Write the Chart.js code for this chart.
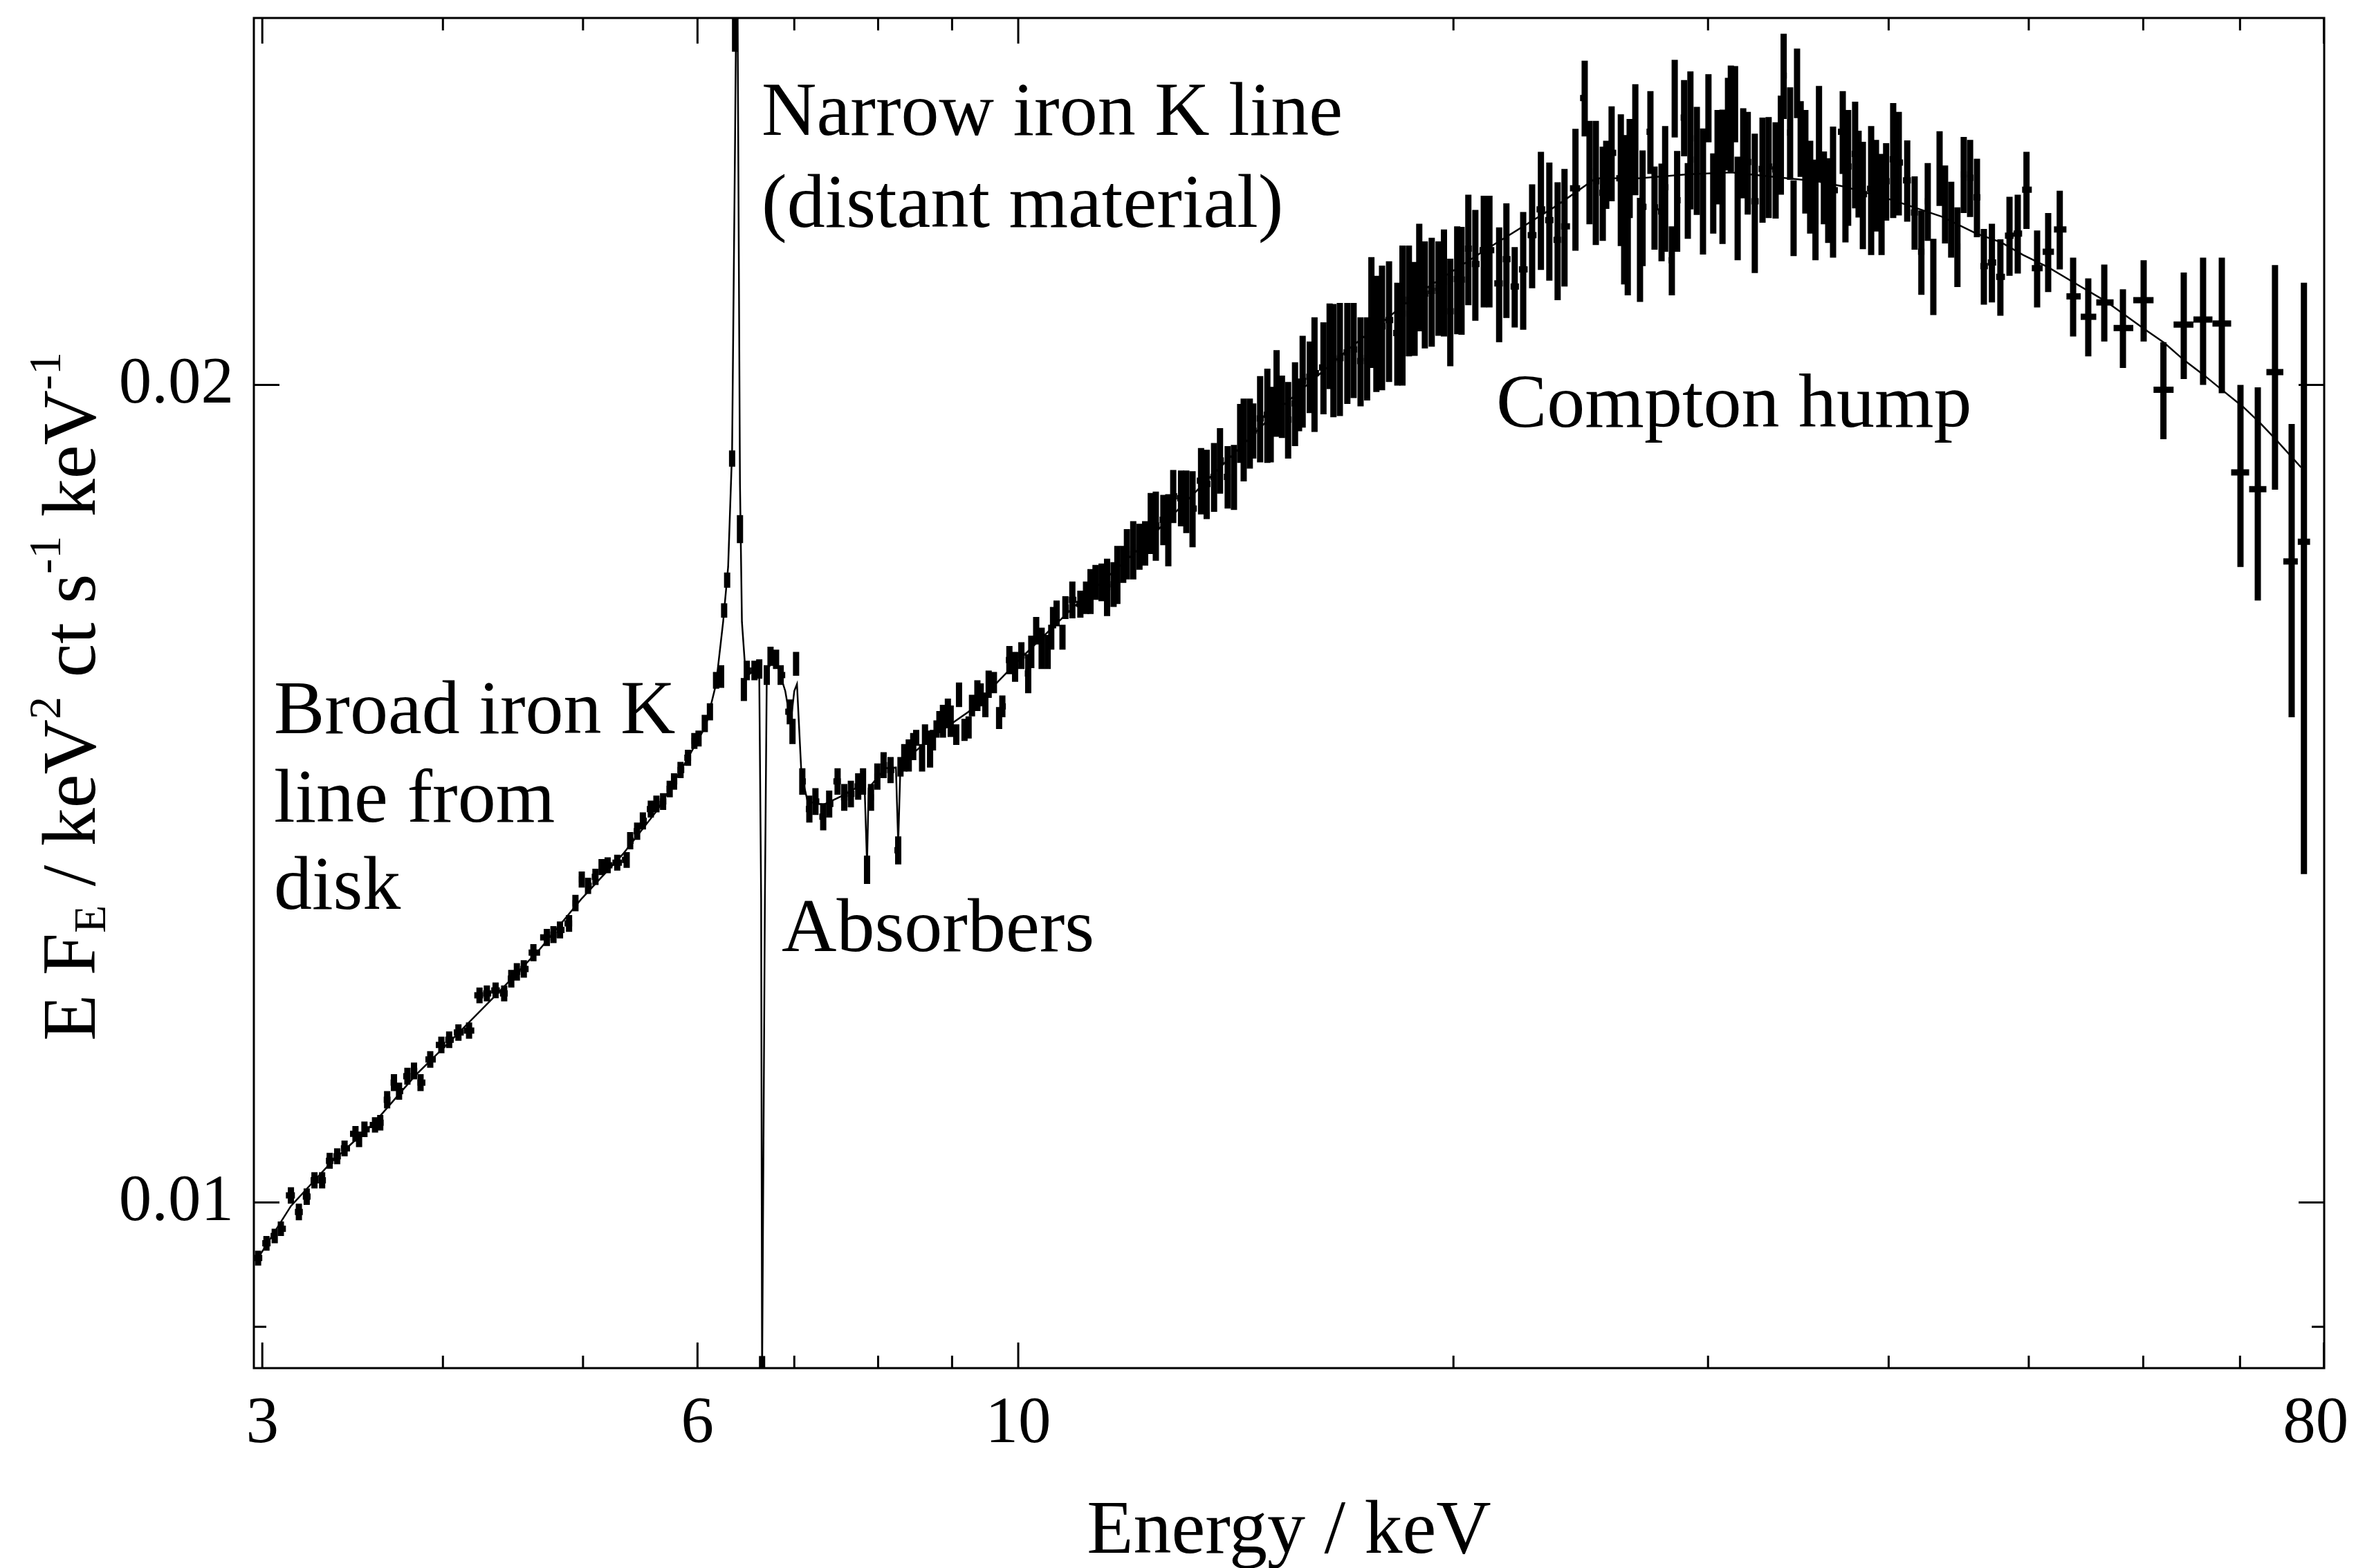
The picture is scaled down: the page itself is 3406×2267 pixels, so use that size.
<!DOCTYPE html>
<html>
<head>
<meta charset="utf-8">
<script src="https://cdn.jsdelivr.net/npm/chart.js@4.4.1/dist/chart.umd.min.js"></script>
<style>
html,body{margin:0;padding:0;background:#ffffff;}
canvas{display:block;}
</style>
</head>
<body>
<canvas id="c" width="3406" height="2267"></canvas>
<script>
// ---------------- data ----------------
const xTickValues = [3, 6, 10, 80];
const xMinorTickValues = [4, 5, 7, 8, 9, 20, 30, 40, 50, 60, 70];
const yTickValues = [0.01, 0.02];
const yMinorTickValues = [0.009];

// observed spectrum: bin energy (keV), E*F_E, 1-sigma error
const energyKeV = [
  2.98, 3.02, 3.06, 3.09, 3.14, 3.18, 3.22, 3.26, 3.30, 3.34, 3.38, 3.42, 3.48, 3.50, 3.53, 3.59, 3.62, 3.66, 3.70, 3.73,
  3.78, 3.82, 3.86, 3.92, 3.99, 4.04, 4.10, 4.17, 4.24, 4.29, 4.35, 4.41, 4.46, 4.50, 4.55, 4.62, 4.72, 4.77, 4.82, 4.89,
  4.94, 4.99, 5.04, 5.10, 5.15, 5.20, 5.28, 5.36, 5.39, 5.45, 5.50, 5.57, 5.62, 5.68, 5.74, 5.78, 5.84, 5.91, 5.97, 6.01,
  6.07, 6.12, 6.18, 6.23, 6.26, 6.29, 6.34, 6.37, 6.42, 6.46, 6.49, 6.57, 6.62, 6.65, 6.70, 6.74, 6.80, 6.85, 6.95, 6.98,
  7.02, 7.09, 7.17, 7.24, 7.33, 7.40, 7.50, 7.58, 7.66, 7.75, 7.81, 7.86, 7.91, 7.99, 8.07, 8.16, 8.26,
  8.29, 8.34, 8.40, 8.46, 8.50, 8.58, 8.62, 8.69, 8.73, 8.78, 8.82, 8.87, 8.94, 8.98, 9.06, 9.10, 9.18, 9.24, 9.29, 9.37, 9.42, 9.49, 9.54,
  9.62, 9.70, 9.75, 9.86, 9.95, 10.05, 10.16, 10.21, 10.29, 10.38, 10.48, 10.54, 10.57, 10.63, 10.73, 10.78, 10.90, 11.04, 11.14, 11.22,
  11.31, 11.42, 11.52, 11.64, 11.71, 11.82, 11.89, 12.01, 12.13, 12.24, 12.35, 12.45, 12.60, 12.70, 12.80, 12.96, 13.07, 13.20, 13.38, 13.50,
  13.66, 13.79, 13.96, 14.10, 14.24, 14.32, 14.46, 14.54, 14.70, 14.87, 14.95, 15.09, 15.22, 15.37, 15.54, 15.64, 15.73, 15.91, 16.03, 16.26,
  16.42, 16.52, 16.69, 16.89, 17.06, 17.25, 17.43, 17.55, 17.69, 17.85, 18.05, 18.29, 18.44, 18.63, 18.80, 18.94, 19.11, 19.32, 19.53, 19.70,
  19.90, 20.12, 20.26, 20.48, 20.71, 20.99, 21.18, 21.51, 21.76, 22.05, 22.35, 22.67, 22.99, 23.30, 23.61, 23.87, 24.29, 24.65, 24.84, 25.09,
  25.37, 25.51, 25.73, 26.11, 26.25, 26.40, 26.48, 26.72, 26.92, 27.03, 27.37, 27.55, 27.86, 28.02, 28.32, 28.45, 28.56, 28.88, 29.05, 29.17,
  29.47, 29.76, 30.02, 30.25, 30.46, 30.70, 30.97, 31.11, 31.32, 31.45, 31.73, 31.96, 32.32, 32.72, 33.04, 33.41, 33.69, 33.84, 34.19, 34.38,
  34.57, 34.77, 35.03, 35.30, 35.60, 35.80, 36.08, 36.33, 36.61, 37.18, 37.34, 37.50, 37.92, 38.13, 38.39, 38.90, 39.20, 39.55, 39.84, 40.29,
  40.65, 41.20, 41.69, 42.14, 42.57, 42.95, 43.38, 43.76, 44.19, 44.63, 45.08, 45.54, 46.04, 46.55, 47.15, 47.79, 48.49, 49.13, 49.82, 50.67,
  51.57, 52.53, 53.66, 54.97, 56.39, 58.09, 60.04, 61.96, 64.00, 66.00, 68.00, 70.05, 72.01, 74.01, 76.00, 77.50
];
const fluxEF = [
  0.00954, 0.00966, 0.00972, 0.00978, 0.01006, 0.00992, 0.01005, 0.01019, 0.01019, 0.01036, 0.01040, 0.01047, 0.01060, 0.01055, 0.01064, 0.01068, 0.01070, 0.01091, 0.01107, 0.01099,
  0.01113, 0.01118, 0.01107, 0.01129, 0.01143, 0.01148, 0.01155, 0.01157, 0.01192, 0.01194, 0.01197, 0.01194, 0.01209, 0.01216, 0.01219, 0.01236, 0.01252, 0.01255, 0.01260, 0.01267,
  0.01289, 0.01315, 0.01308, 0.01318, 0.01329, 0.01331, 0.01334, 0.01337, 0.01359, 0.01370, 0.01382, 0.01396, 0.01402, 0.01405, 0.01420, 0.01429, 0.01443, 0.01458, 0.01479, 0.01482,
  0.01501, 0.01516, 0.01557, 0.01562, 0.01652, 0.01695, 0.01879, 0.02700, 0.01770, 0.01545, 0.01570, 0.01570, 0.01572, 0.00873, 0.01564, 0.01589, 0.01585, 0.01564, 0.01516, 0.01491,
  0.01579, 0.01429, 0.01396, 0.01405, 0.01387, 0.01402, 0.01429, 0.01410, 0.01414, 0.01423, 0.01429, 0.01326, 0.01410, 0.01435, 0.01449, 0.01443, 0.01348,
  0.01447, 0.01458, 0.01461, 0.01472, 0.01483, 0.01458, 0.01487, 0.01469, 0.01480, 0.01494, 0.01503, 0.01504, 0.01514, 0.01504, 0.01487, 0.01538, 0.01493, 0.01496, 0.01524, 0.01537, 0.01538, 0.01525, 0.01552,
  0.01554, 0.01508, 0.01523, 0.01584, 0.01575, 0.01590, 0.01566, 0.01595, 0.01624, 0.01600, 0.01595, 0.01615, 0.01642, 0.01648, 0.01615, 0.01656, 0.01667, 0.01661, 0.01670, 0.01679,
  0.01692, 0.01692, 0.01685, 0.01689, 0.01703, 0.01718, 0.01733, 0.01739, 0.01744, 0.01749, 0.01779, 0.01775, 0.01784, 0.01769, 0.01820, 0.01817, 0.01812, 0.01801, 0.01844, 0.01839,
  0.01850, 0.01876, 0.01850, 0.01850, 0.01920, 0.01910, 0.01920, 0.01924, 0.01944, 0.01950, 0.01935, 0.01987, 0.01964, 0.01942, 0.01969, 0.01967, 0.02007, 0.02014, 0.02020, 0.02030,
  0.02068, 0.02044, 0.02046, 0.02056, 0.02061, 0.02041, 0.02046, 0.02129, 0.02091, 0.02102, 0.02113, 0.02090, 0.02125, 0.02150, 0.02135, 0.02193, 0.02161, 0.02166, 0.02172, 0.02183,
  0.02129, 0.02188, 0.02187, 0.02245, 0.02216, 0.02242, 0.02242, 0.02180, 0.02225, 0.02174, 0.02206, 0.02271, 0.02321, 0.02300, 0.02262, 0.02288, 0.02363, 0.02551, 0.02397, 0.02377,
  0.02354, 0.02391, 0.02435, 0.02383, 0.02325, 0.02266, 0.02405, 0.02465, 0.02245, 0.02326, 0.02479, 0.02325, 0.02317, 0.02365, 0.02223, 0.02551, 0.02339, 0.02509, 0.02339, 0.02465,
  0.02421, 0.02360, 0.02530, 0.02354, 0.02428, 0.02390, 0.02497, 0.02509, 0.02539, 0.02325, 0.02436, 0.02416, 0.02337, 0.02402, 0.02407, 0.02401, 0.02453, 0.02600, 0.02477, 0.02305,
  0.02584, 0.02465, 0.02419, 0.02367, 0.02322, 0.02477, 0.02365, 0.02340, 0.02359, 0.02479, 0.02339, 0.02407, 0.02433, 0.02393, 0.02351, 0.02362, 0.02370, 0.02333, 0.02377, 0.02422,
  0.02415, 0.02379, 0.02315, 0.02239, 0.02337, 0.02193, 0.02404, 0.02332, 0.02302, 0.02249, 0.02391, 0.02384, 0.02345, 0.02212, 0.02219, 0.02192, 0.02270, 0.02274, 0.02360, 0.02208,
  0.02239, 0.02282, 0.02156, 0.02119, 0.02145, 0.02099, 0.02149, 0.01992, 0.02105, 0.02114, 0.02107, 0.01857, 0.01831, 0.02022, 0.01722, 0.01751
];
const fluxErr = [
  0.00006, 0.00006, 0.00006, 0.00006, 0.00007, 0.00007, 0.00007, 0.00007, 0.00007, 0.00007, 0.00007, 0.00007, 0.00007, 0.00007, 0.00007, 0.00007, 0.00007, 0.00008, 0.00008, 0.00008,
  0.00008, 0.00008, 0.00008, 0.00008, 0.00008, 0.00008, 0.00008, 0.00008, 0.00008, 0.00008, 0.00008, 0.00008, 0.00009, 0.00009, 0.00009, 0.00009, 0.00009, 0.00009, 0.00009, 0.00009,
  0.00009, 0.00009, 0.00009, 0.00009, 0.00009, 0.00009, 0.00009, 0.00009, 0.00010, 0.00010, 0.00010, 0.00010, 0.00010, 0.00010, 0.00010, 0.00010, 0.00010, 0.00010, 0.00010, 0.00010,
  0.00011, 0.00011, 0.00011, 0.00015, 0.00010, 0.00011, 0.00013, 0.00047, 0.00021, 0.00015, 0.00013, 0.00013, 0.00013, 0.00005, 0.00013, 0.00013, 0.00013, 0.00013, 0.00016, 0.00016,
  0.00016, 0.00016, 0.00016, 0.00016, 0.00016, 0.00016, 0.00016, 0.00016, 0.00016, 0.00016, 0.00016, 0.00016, 0.00016, 0.00016, 0.00016, 0.00016, 0.00016,
  0.00012, 0.00017, 0.00020, 0.00017, 0.00010, 0.00017, 0.00013, 0.00023, 0.00013, 0.00011, 0.00014, 0.00021, 0.00019, 0.00020, 0.00013, 0.00016, 0.00014, 0.00014, 0.00014, 0.00020, 0.00015, 0.00016, 0.00018,
  0.00014, 0.00014, 0.00014, 0.00019, 0.00020, 0.00018, 0.00026, 0.00022, 0.00019, 0.00028, 0.00023, 0.00017, 0.00015, 0.00018, 0.00017, 0.00016, 0.00026, 0.00019, 0.00023, 0.00032,
  0.00025, 0.00027, 0.00041, 0.00032, 0.00042, 0.00027, 0.00037, 0.00043, 0.00034, 0.00033, 0.00046, 0.00052, 0.00038, 0.00054, 0.00041, 0.00043, 0.00048, 0.00058, 0.00052, 0.00054,
  0.00054, 0.00052, 0.00049, 0.00051, 0.00048, 0.00067, 0.00057, 0.00045, 0.00071, 0.00078, 0.00062, 0.00073, 0.00052, 0.00063, 0.00070, 0.00044, 0.00078, 0.00061, 0.00098, 0.00079,
  0.00075, 0.00098, 0.00098, 0.00088, 0.00083, 0.00077, 0.00072, 0.00100, 0.00103, 0.00111, 0.00108, 0.00091, 0.00126, 0.00101, 0.00085, 0.00100, 0.00098, 0.00100, 0.00087, 0.00099,
  0.00097, 0.00100, 0.00100, 0.00105, 0.00104, 0.00106, 0.00106, 0.00106, 0.00108, 0.00074, 0.00110, 0.00100, 0.00116, 0.00115, 0.00113, 0.00114, 0.00122, 0.00082, 0.00105, 0.00125,
  0.00094, 0.00069, 0.00098, 0.00133, 0.00147, 0.00108, 0.00101, 0.00116, 0.00099, 0.00114, 0.00087, 0.00082, 0.00096, 0.00126, 0.00065, 0.00084, 0.00100, 0.00081, 0.00075, 0.00144,
  0.00111, 0.00126, 0.00073, 0.00080, 0.00097, 0.00136, 0.00098, 0.00113, 0.00082, 0.00102, 0.00093, 0.00105, 0.00138, 0.00107, 0.00103, 0.00098, 0.00103, 0.00094, 0.00097, 0.00074,
  0.00076, 0.00079, 0.00106, 0.00093, 0.00099, 0.00100, 0.00073, 0.00084, 0.00131, 0.00087, 0.00082, 0.00118, 0.00110, 0.00088, 0.00107, 0.00129, 0.00092, 0.00100, 0.00078, 0.00118,
  0.00106, 0.00082, 0.00072, 0.00080, 0.00077, 0.00071, 0.00076, 0.00077, 0.00074, 0.00076, 0.00077, 0.00078, 0.00078, 0.00071, 0.00074, 0.00071, 0.00076, 0.00076, 0.00077, 0.00072,
  0.00075, 0.00076, 0.00072, 0.00070, 0.00070, 0.00070, 0.00074, 0.00082, 0.00095, 0.00114, 0.00121, 0.00143, 0.00165, 0.00192, 0.00213, 0.00430
];

// best-fitting model curve
const modelEnergyKeV = [
  2.98, 3.14, 3.35, 3.58, 3.83, 4.09, 4.37, 4.67, 4.99, 5.33, 5.63, 5.88, 6.08, 6.18, 6.25, 6.30, 6.34, 6.37, 6.39, 6.42,
  6.44, 6.48, 6.57, 6.62, 6.64, 6.65, 6.68, 6.70, 6.75, 6.82, 6.90, 6.96, 7.00, 7.03, 7.08, 7.15, 7.33, 7.58, 7.79, 7.83,
  7.86, 7.88, 8.09, 8.23, 8.26, 8.29, 8.74, 9.24, 10.0, 10.90, 12.17, 13.58, 15.17, 16.93, 18.90, 21.11, 23.56, 25.09, 26.89, 29.05,
  31.14, 33.77, 35.68, 37.30, 40.29, 43.52, 45.99, 47.85, 49.55, 51.57, 53.60, 56.45, 58.21, 60.11, 62.03, 64.00, 66.07, 68.15, 70.36, 72.32,
  74.01, 77.15
];
const modelEF = [
  0.00954, 0.00997, 0.01035, 0.01069, 0.01114, 0.01153, 0.01195, 0.01240, 0.01294, 0.01344, 0.01395, 0.01451, 0.01498, 0.01552, 0.01636, 0.01714, 0.01893, 0.02465, 0.03000, 0.01839,
  0.01636, 0.01561, 0.01571, 0.01566, 0.01294, 0.00860, 0.01294, 0.01566, 0.01583, 0.01574, 0.01543, 0.01502, 0.01543, 0.01552, 0.01438, 0.01405, 0.01401, 0.01413, 0.01425, 0.01421,
  0.01332, 0.01421, 0.01445, 0.01446, 0.01356, 0.01451, 0.01485, 0.01516, 0.01583, 0.01655, 0.01744, 0.01850, 0.01961, 0.02062, 0.02161, 0.02245, 0.02328, 0.02383, 0.02383, 0.02391,
  0.02395, 0.02384, 0.02377, 0.02366, 0.02339, 0.02307, 0.02274, 0.02257, 0.02233, 0.02210, 0.02183, 0.02148, 0.02123, 0.02097, 0.02073, 0.02043, 0.02017, 0.01990, 0.01963, 0.01936,
  0.01911, 0.01865
];

// text labels placed on the figure
const annotationTexts = ['Narrow iron K line', '(distant material)', 'Broad iron K', 'line from', 'disk', 'Absorbers', 'Compton hump'];

// ---------------- drawing ----------------
const SERIF = '"Liberation Serif", "Times New Roman", Times, serif';
const annotationPlacement = [
  {x: 1101, y: 195}, {x: 1101, y: 328},
  {x: 396, y: 1060}, {x: 396, y: 1188}, {x: 396, y: 1314},
  {x: 1130, y: 1375}, {x: 2163, y: 617}
];

const spectrumPlugin = {
  id: 'spectrum',
  beforeDatasetsDraw(chart) {
    const {ctx, chartArea: a, scales: {x, y}} = chart;
    ctx.save();
    ctx.beginPath();
    ctx.rect(a.left, a.top, a.right - a.left, a.bottom - a.top);
    ctx.clip();
    ctx.strokeStyle = '#000';
    ctx.lineWidth = 9;
    ctx.lineCap = 'butt';
    const n = energyKeV.length;
    const px = energyKeV.map(e => x.getPixelForValue(e));
    for (let i = 0; i < n; i++) {
      const cx = px[i];
      const yt = y.getPixelForValue(fluxEF[i] + fluxErr[i]);
      const yb = y.getPixelForValue(Math.max(fluxEF[i] - fluxErr[i], 1e-6));
      const yc = y.getPixelForValue(fluxEF[i]);
      const hl = i > 0 ? (cx - px[i - 1]) / 2 : (px[i + 1] - cx) / 2;
      const hr = i < n - 1 ? (px[i + 1] - cx) / 2 : hl;
      ctx.beginPath();
      ctx.moveTo(cx, yt); ctx.lineTo(cx, yb);
      ctx.moveTo(cx - hl, yc); ctx.lineTo(cx + hr, yc);
      ctx.stroke();
    }
    ctx.restore();
  },
  afterDraw(chart) {
    const {ctx, chartArea: a, scales: {x, y}} = chart;
    ctx.save();
    ctx.strokeStyle = '#000';
    ctx.lineWidth = 3;
    ctx.strokeRect(a.left, a.top, a.right - a.left, a.bottom - a.top);
    const tick = (vals, len) => {
      ctx.beginPath();
      vals.forEach(v => {
        const X = x.getPixelForValue(v);
        if (X < a.left - 1 || X > a.right + 1) return;
        ctx.moveTo(X, a.bottom); ctx.lineTo(X, a.bottom - len);
        ctx.moveTo(X, a.top); ctx.lineTo(X, a.top + len);
      });
      ctx.stroke();
    };
    const ytick = (vals, len) => {
      ctx.beginPath();
      vals.forEach(v => {
        const Y = y.getPixelForValue(v);
        if (Y < a.top - 1 || Y > a.bottom + 1) return;
        ctx.moveTo(a.left, Y); ctx.lineTo(a.left + len, Y);
        ctx.moveTo(a.right, Y); ctx.lineTo(a.right - len, Y);
      });
      ctx.stroke();
    };
    tick(xTickValues, 37); tick(xMinorTickValues, 18);
    ytick(yTickValues, 37); ytick(yMinorTickValues, 18);

    ctx.fillStyle = '#000';
    // x title
    ctx.font = '110px ' + SERIF;
    ctx.textAlign = 'center';
    ctx.textBaseline = 'alphabetic';
    ctx.fillText('Energy / keV', (a.left + a.right) / 2, 2245);

    // y title with sub/superscripts, rotated
    const main = '110px ' + SERIF, small = '66px ' + SERIF;
    const pieces = [
      {t: 'E F', f: main, dy: 0},
      {t: 'E', f: small, dy: 15},
      {t: ' / keV', f: main, dy: 0},
      {t: '2', f: small, dy: -50},
      {t: ' ct s', f: main, dy: 0},
      {t: '-1', f: small, dy: -50},
      {t: ' keV', f: main, dy: 0},
      {t: '-1', f: small, dy: -50}
    ];
    ctx.save();
    ctx.translate(137, 1007);
    ctx.rotate(-Math.PI / 2);
    ctx.textAlign = 'left';
    let total = 0;
    pieces.forEach(p => { ctx.font = p.f; total += ctx.measureText(p.t).width; });
    let cx = -total / 2;
    pieces.forEach(p => { ctx.font = p.f; ctx.fillText(p.t, cx, p.dy); cx += ctx.measureText(p.t).width; });
    ctx.restore();

    // annotations
    ctx.font = '110px ' + SERIF;
    ctx.textAlign = 'left';
    annotationTexts.forEach((t, i) => {
      ctx.fillText(t, annotationPlacement[i].x, annotationPlacement[i].y);
    });
    ctx.restore();
  }
};

const ctx = document.getElementById('c').getContext('2d');
new Chart(ctx, {
  type: 'scatter',
  data: {
    datasets: [
      {
        label: 'model',
        data: modelEnergyKeV.map((e, i) => ({x: e, y: modelEF[i]})),
        showLine: true,
        borderColor: '#000',
        borderWidth: 2.5,
        pointRadius: 0,
        tension: 0,
        clip: 0
      },
      {
        label: 'data',
        data: energyKeV.map((e, i) => ({x: e, y: fluxEF[i]})),
        showLine: false,
        pointRadius: 0
      }
    ]
  },
  options: {
    responsive: false,
    animation: false,
    devicePixelRatio: 1,
    layout: {padding: {left: 0, right: 46, top: 26, bottom: 0}},
    plugins: {legend: {display: false}, tooltip: {enabled: false}},
    scales: {
      x: {
        type: 'logarithmic',
        min: 2.96,
        max: 80.04,
        afterBuildTicks(s) { s.ticks = xTickValues.map(v => ({value: v})); },
        afterFit(s) { s.height = 289; s.paddingLeft = 0; s.paddingRight = 0; s.paddingTop = 0; s.paddingBottom = 0; },
        grid: {display: false, drawTicks: false},
        border: {display: false},
        ticks: {
          padding: 25, color: '#000', autoSkip: false, maxRotation: 0,
          font: {family: SERIF, size: 95},
          // the last label sits at the frame edge; a trailing space keeps it inside the page
          callback: (v, i, arr) => (i === arr.length - 1 ? String(v) + ' ' : String(v))
        }
      },
      y: {
        type: 'logarithmic',
        min: 0.00869,
        max: 0.0273,
        afterBuildTicks(s) { s.ticks = yTickValues.map(v => ({value: v})); },
        afterFit(s) { s.width = 367; s.paddingLeft = 0; s.paddingRight = 0; s.paddingTop = 0; s.paddingBottom = 0; },
        grid: {display: false, drawTicks: false},
        border: {display: false},
        ticks: {
          padding: 29, color: '#000', autoSkip: false,
          font: {family: SERIF, size: 95},
          callback: (v) => Number(v).toFixed(2)
        }
      }
    }
  },
  plugins: [spectrumPlugin]
});
</script>
</body>
</html>
